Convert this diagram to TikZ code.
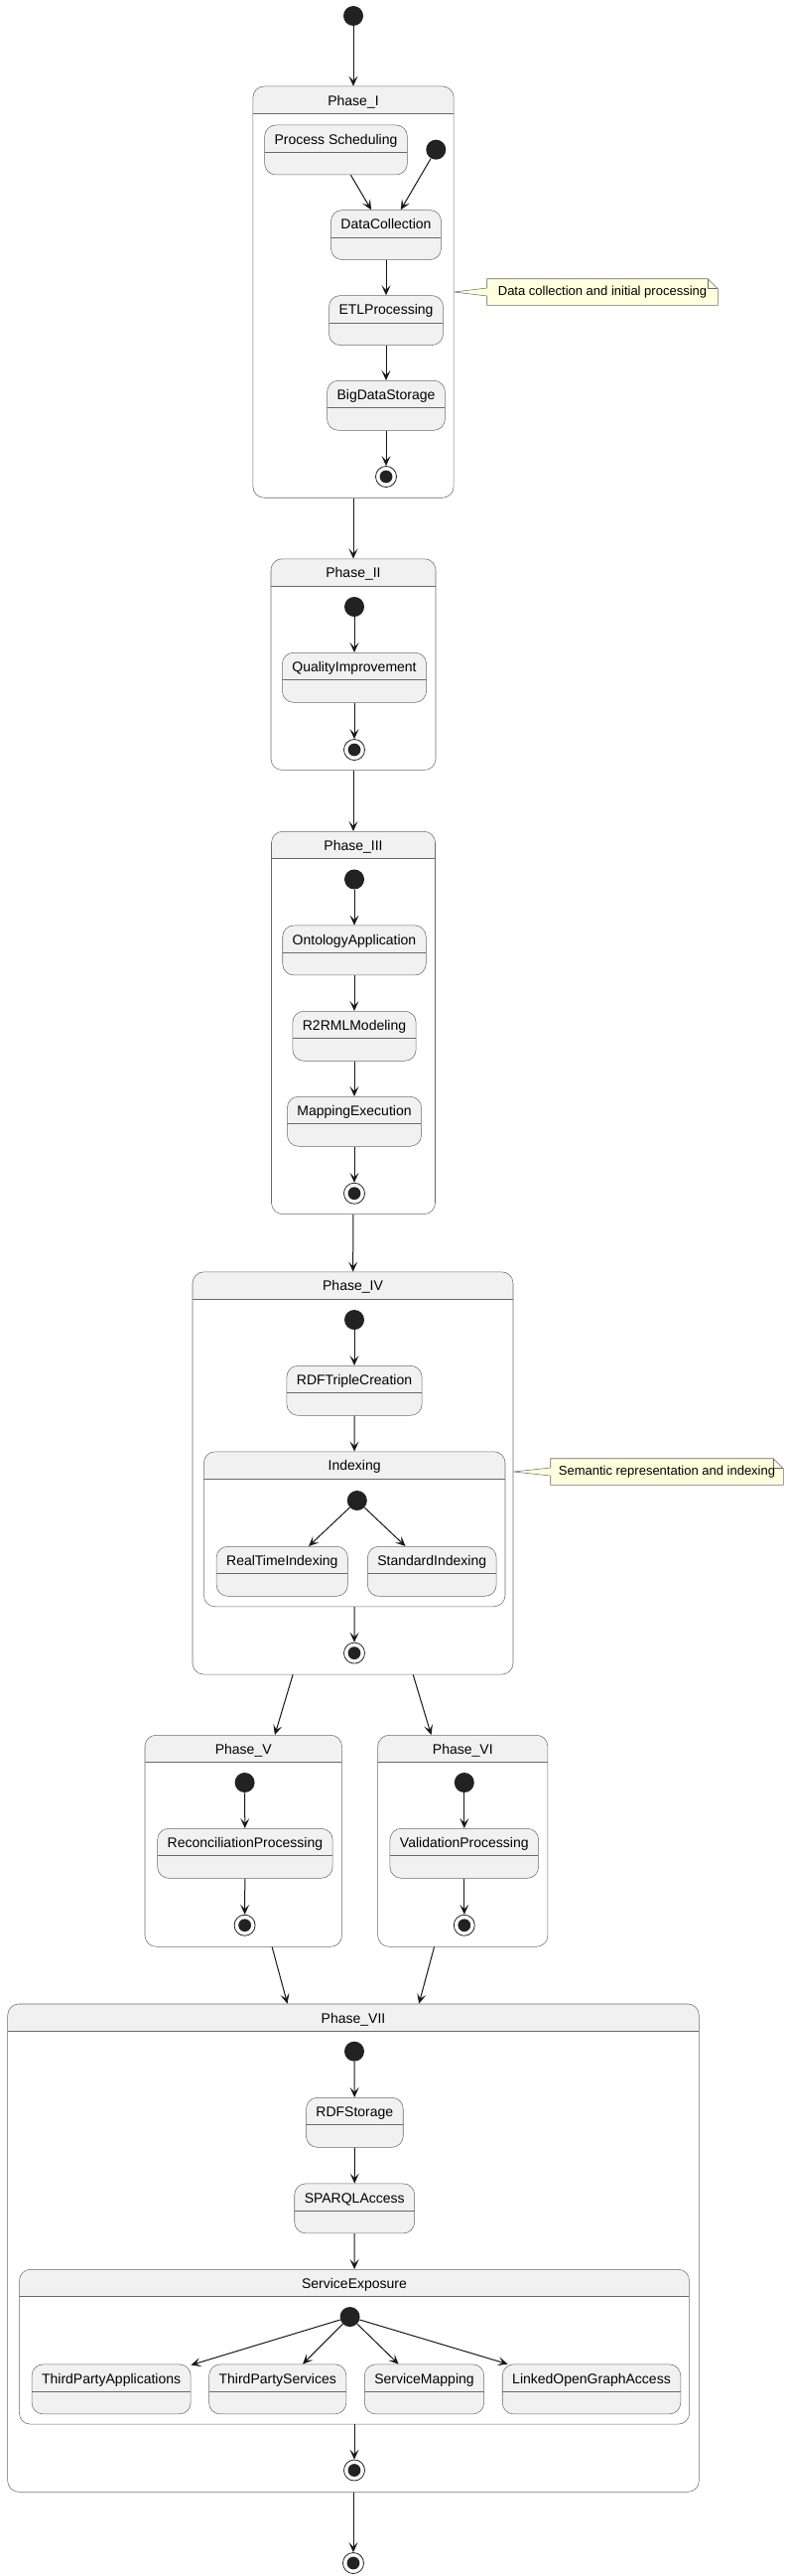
\documentclass[tikz,border=0pt]{standalone}
\usepackage{fontspec}
\setmainfont{Liberation Sans}
\usepackage{tikz}
\usetikzlibrary{arrows.meta,backgrounds}

\definecolor{LineGray}{HTML}{181818}
\definecolor{BoxGray}{HTML}{6A6A6A}
\definecolor{StateFill}{HTML}{F1F1F1}
\definecolor{NoteFill}{HTML}{FEFFDD}
\definecolor{DotFill}{HTML}{222222}

\begin{document}
\begin{tikzpicture}[x=0.75pt, y=-0.75pt]
			\tikzstyle{State}	= [draw=BoxGray, fill=StateFill, line width=0.4pt, rounded corners=8.5pt, anchor=north, inner xsep=7.5pt, inner ysep=0pt, text height=14.4pt, text depth=23.1pt, font=\fontsize{10.5}{12}\selectfont, path picture={\draw[BoxGray, line width=0.4pt] ([yshift=-20.6pt]path picture bounding box.north west) -- ([yshift=-20.6pt]path picture bounding box.north east);}]
			\tikzstyle{Composite}	= [draw=BoxGray, fill=white, line width=0.4pt, rounded corners=8.5pt, anchor=north, inner sep=0pt, path picture={\fill[StateFill, sharp corners] (path picture bounding box.north west) rectangle ([yshift=-20.6pt]path picture bounding box.north east); \draw[BoxGray, line width=0.4pt] ([yshift=-20.6pt]path picture bounding box.north west) -- ([yshift=-20.6pt]path picture bounding box.north east);}]
			\tikzstyle{Title}	= [font=\fontsize{10.5}{12}\selectfont, anchor=base, yshift=-14.5pt, inner sep=0pt]
			\tikzstyle{Initial}	= [circle, fill=DotFill, minimum size=15pt, inner sep=0pt]
			\tikzstyle{Final}	= [circle, draw=DotFill, fill=white, line width=0.6pt, minimum size=15.75pt, inner sep=0pt, path picture={\fill[DotFill] (path picture bounding box.center) circle (4.8pt);}]
			\tikzstyle{Note}	= [minimum height=19.5pt, inner sep=0pt, font=\fontsize{9.75}{11}\selectfont]
			\tikzstyle{NoteLine}	= [draw=BoxGray, fill=NoteFill, line width=0.4pt]
			\tikzstyle{Trans}	= [draw=LineGray, line width=0.75pt, -{Stealth[length=7.5pt, width=6.75pt, inset=3.4pt]}]
			
			\useasboundingbox (0,0) rectangle (795,2594);
			
			\node (s0) at (356,16) [Initial] {};
			
			% Phase I
			\node (p1) at (356,86.7) [Composite][minimum width=151.7pt, minimum height=310.7pt, label={[Title]north:Phase\_I}] {};
			\node (ps) at (338.5,125.7) [State] {Process Scheduling};
			\node (s1) at (439.3,150.7) [Initial] {};
			\node (dc) at (389,211.3) [State] {DataCollection};
			\node (etl) at (389,297.3) [State] {ETLProcessing};
			\node (bds) at (389,383) [State] {BigDataStorage};
			\node (f1) at (389,480) [Final] {};
			\node (n1) at (607,294) [Note][minimum width=174pt] {Data collection and initial processing};
			\coordinate (c1) at (p1.east |- n1.west);
			
			% Phase II
			\node (p2) at (356,562.5) [Composite][minimum width=124.5pt, minimum height=159.5pt, label={[Title]north:Phase\_II}] {};
			\node (s2) at (357,611) [Initial] {};
			\node (qi) at (357,657) [State] {QualityImprovement};
			\node (f2) at (357,755) [Final] {};
			
			% Phase III
			\node (p3) at (356,837) [Composite][minimum width=123.75pt, minimum height=289pt, label={[Title]north:Phase\_III}] {};
			\node (s3) at (357,885.5) [Initial] {};
			\node (oa) at (357,931.7) [State] {OntologyApplication};
			\node (rm) at (357,1018) [State] {R2RMLModeling};
			\node (me) at (357,1104) [State] {MappingExecution};
			\node (f3) at (357,1201.7) [Final] {};
			
			% Phase IV
			\node (p4) at (355.5,1280.6) [Composite][minimum width=242.25pt, minimum height=303.9pt, label={[Title]north:Phase\_IV}] {};
			\node (s4) at (357,1329) [Initial] {};
			\node (rtc) at (357,1375) [State] {RDFTripleCreation};
			\node (idx) at (357.2,1461.5) [Composite][minimum width=227.7pt, minimum height=117pt, label={[Title]north:Indexing}] {};
			\node (s4b) at (359.8,1511) [Initial] {};
			\node (rti) at (284.3,1557) [State] {RealTimeIndexing};
			\node (si) at (435.25,1557) [State] {StandardIndexing};
			\node (f4) at (357,1664.6) [Final] {};
			\node (n2) at (672,1482) [Note][minimum width=175.5pt] {Semantic representation and indexing};
			\coordinate (c2) at (p4.east |- n2.west);
			
			% Phase V and VI
			\node (p5) at (245.25,1747) [Composite][minimum width=148.9pt, minimum height=159.75pt, label={[Title]north:Phase\_V}] {};
			\node (s5) at (246.6,1795) [Initial] {};
			\node (rp) at (246.9,1841) [State] {ReconciliationProcessing};
			\node (f5) at (246.6,1938.7) [Final] {};
			\node (p6) at (466.3,1747) [Composite][minimum width=128.4pt, minimum height=159.75pt, label={[Title]north:Phase\_VI}] {};
			\node (s6) at (467.8,1795) [Initial] {};
			\node (vp) at (467.8,1841) [State] {ValidationProcessing};
			\node (f6) at (467.8,1938.7) [Final] {};
			
			% Phase VII
			\node (p7) at (356,2017.7) [Composite][minimum width=522.5pt, minimum height=368.5pt, label={[Title]north:Phase\_VII}] {};
			\node (s7) at (357,2065.7) [Initial] {};
			\node (rs) at (357.35,2112) [State] {RDFStorage};
			\node (sa) at (357.2,2198.6) [State] {SPARQLAccess};
			\node (se) at (357,2285) [Composite][minimum width=506.4pt, minimum height=116.9pt, label={[Title]north:ServiceExposure}] {};
			\node (s7b) at (352.6,2333) [Initial] {};
			\foreach \n/\x/\t in {tpa/112.1/ThirdPartyApplications, tps/279.75/ThirdPartyServices, sm/427.5/ServiceMapping, lo/596/LinkedOpenGraphAccess}
				\node (\n) at (\x,2380.6) [State] {\t};
			\node (f7) at (357,2487.5) [Final] {};
			
			\node (f0) at (356,2581) [Final] {};
			
			\foreach \a/\b in {s0/p1, ps/dc, s1/dc, dc/etl, etl/bds, bds/f1, p1/p2, s2/qi, qi/f2, p2/p3, s3/oa, oa/rm, rm/me, me/f3, p3/p4, s4/rtc, rtc/idx, s4b/rti, s4b/si, idx/f4, p4/p5, p4/p6, s5/rp, rp/f5, s6/vp, vp/f6, p5/p7, p6/p7, s7/rs, rs/sa, sa/se, s7b/tpa, s7b/tps, s7b/sm, s7b/lo, se/f7, p7/f0}
				\draw [Trans] (\a) to (\b);
			
			\begin{scope}[on background layer]
				\foreach \n/\c in {n1/c1, n2/c2} {
					\draw [NoteLine] (\n.north west) -- ([xshift=-7.5pt]\n.north east) -- ([yshift=-7.5pt]\n.north east) -- (\n.south east) -- (\n.south west) -- ([yshift=-3pt]\n.west) -- (\c) -- ([yshift=3pt]\n.west) -- cycle;
					\draw [BoxGray, line width=0.4pt] ([xshift=-7.5pt]\n.north east) |- ([yshift=-7.5pt]\n.north east);
				}
			\end{scope}
		\end{tikzpicture}
\end{document}
